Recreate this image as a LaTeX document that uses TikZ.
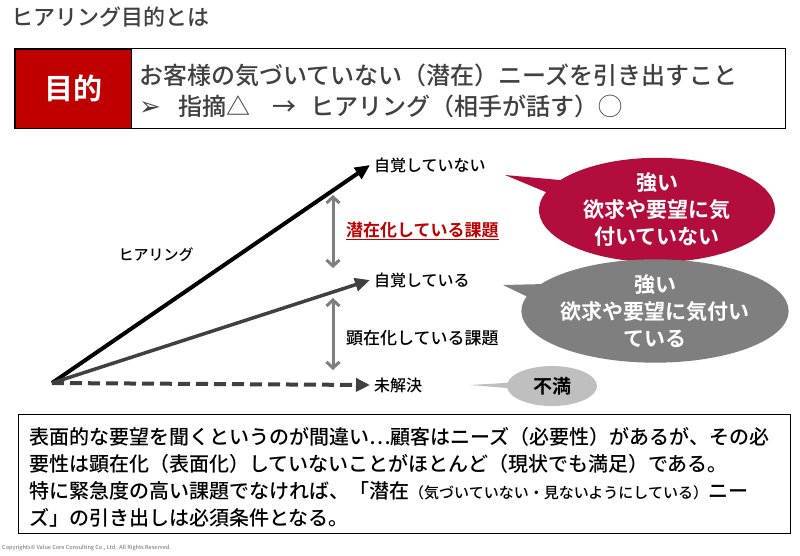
\documentclass[tikz,border=0pt]{standalone}
\usepackage{fontspec}
\setmainfont{Noto Sans CJK JP Medium}[BoldFont={Noto Sans CJK JP Bold}]
\newfontfamily\hrgsym{DejaVu Sans}
\usepackage{xcolor}
\definecolor{hrgred}{HTML}{C00000}
\definecolor{hrgwine}{HTML}{B30D3D}
\definecolor{hrgtext}{HTML}{404040}
\definecolor{hrggray}{HTML}{7F7F7F}
\definecolor{hrglight}{HTML}{BFBFBF}
\usetikzlibrary{arrows.meta,positioning,shapes.callouts,calc}
\tikzset{
  hrglabel/.style={font=\fontsize{16}{18}\selectfont,inner sep=1pt,anchor=west},
  hrgflow/.style={-{Triangle[length=15pt,width=13pt]},line width=4pt},
  hrgspan/.style={{Straight Barb[length=6pt,width=13pt]}-{Straight Barb[length=6pt,width=13pt]},line width=3pt,draw=hrggray},
  hrgcall/.style={ellipse callout,text=white,align=center,inner sep=0pt,font=\fontsize{21}{27}\selectfont\bfseries},
}

\begin{document}
\begin{tikzpicture}[x=1pt,y=-1pt]
\useasboundingbox (0,0) rectangle (800,555);
\node[anchor=west,text=hrgtext,font=\fontsize{22}{24}\selectfont] (title) at (8,17) {ヒアリング目的とは};
% aim box
\node[draw,line width=1.2pt,anchor=north west,minimum width=771pt,minimum height=80pt,inner sep=0pt] (aimbox) at (14,48) {};
\node[fill=hrgred,draw=black,line width=1pt,anchor=north west,minimum width=116pt,minimum height=79pt,inner sep=0pt,
  text=white,font=\fontsize{29}{31}\selectfont\bfseries] (aimtag) at (14.5,48.5) {目的};
\node[anchor=west,align=left,text=hrgtext,inner sep=0pt,font=\fontsize{24}{31}\selectfont] (aimtext) at (139,91)
  {お客様の気づいていない（潜在）ニーズを引き出すこと\\
   {\hrgsym\fontsize{26}{20}\selectfont ➢}\hspace{18pt}指摘△\hspace{22pt}→\hspace{14pt}ヒアリング（相手が話す）◯};
% arrows
\coordinate (o) at (52,383);
\coordinate (e1) at (370,165);
\coordinate (e2) at (370,280);
\coordinate (e3) at (370,385);
\draw[hrgflow,draw=black] (o) -- (e1);
\draw[hrgflow,draw=hrgtext,line width=3.5pt] (o) -- (e2);
\draw[-{Triangle[length=14pt,width=13pt]},line width=4pt,draw=hrgtext,dash pattern=on 12pt off 6pt] (o) -- (e3);
\node[hrglabel,right=3pt of e1] (unaware) {自覚していない};
\node[hrglabel,right=3pt of e2] (aware) {自覚している};
\node[hrglabel,right=3pt of e3] (unsolved) {未解決};
\node[font=\fontsize{15}{17}\selectfont] (hearing) at (156,255) {ヒアリング};
% spans
\coordinate (s1a) at (333,195);
\coordinate (s1b) at (333,268);
\coordinate (s2a) at (333,298);
\coordinate (s2b) at (333,370);
\draw[hrgspan] (s1a) -- (s1b);
\draw[hrgspan] (s2a) -- (s2b);
\node[hrglabel,text=hrgred,font=\fontsize{17}{19}\selectfont\bfseries] (latent) at (345,231) {\underline{潜在化している課題}};
\node[hrglabel,font=\fontsize{17}{19}\selectfont] (overt) at (345,338) {顕在化している課題};
% callouts
\coordinate (p1) at (505,175);
\coordinate (p2) at (503,285);
\coordinate (p3) at (470,385);
\node[hrgcall,fill=hrgwine,minimum width=236pt,minimum height=104pt,callout absolute pointer={(p1)}] (strong1) at (657,210)
  {強い\\欲求や要望に気\\付いていない};
\node[hrgcall,fill=hrggray,minimum width=236pt,minimum height=86pt,callout absolute pointer={(p2)}] (strong2) at (655,311)
  {強い\\欲求や要望に気付い\\ている};
\node[ellipse callout,fill=hrglight,minimum width=90pt,minimum height=40pt,inner sep=0pt,callout absolute pointer={(p3)},
  font=\fontsize{19}{21}\selectfont\bfseries] (discontent) at (552,386) {不満};
% note
\node[draw,line width=1.2pt,anchor=north west,minimum width=772pt,minimum height=119pt,inner sep=0pt] (notebox) at (18,414) {};
\node[anchor=west,align=left,inner sep=0pt,font=\fontsize{20}{27}\selectfont] (notetext) at (29,477)
  {表面的な要望を聞くというのが間違い…顧客はニーズ（必要性）があるが、その必\\
   要性は顕在化（表面化）していないことがほとんど（現状でも満足）である。\\
   特に緊急度の高い課題でなければ、「潜在{\fontsize{15}{16}\selectfont（気づいていない・見ないようにしている）}ニー\\
   ズ」の引き出しは必須条件となる。};
\node[anchor=west,inner sep=0pt,text=gray,font=\fontsize{5.5}{6}\selectfont] (copy) at (2,548)
  {Copyrights© Value Core Consulting Co., Ltd.\ \ All Rights Reserved.};
\end{tikzpicture}
\end{document}
